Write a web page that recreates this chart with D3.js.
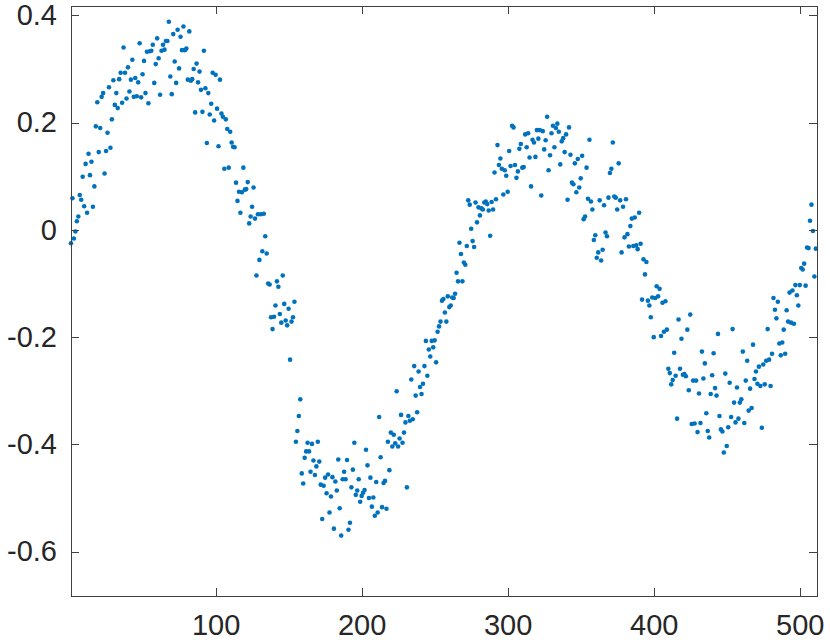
<!DOCTYPE html>
<html>
<head>
<meta charset="utf-8">
<script src="https://cdn.jsdelivr.net/npm/d3@7"></script>
<style>
  html, body { margin: 0; padding: 0; background: #ffffff; }
  svg { display: block; }
  .axis text { font-family: "Liberation Sans", Arial, Helvetica, sans-serif; font-size: 29px; fill: #262626; }
  .axis line, .axis path { stroke: #404040; stroke-width: 1; shape-rendering: crispEdges; }
</style>
</head>
<body>
<svg id="chart" width="830" height="640"></svg>
<script>
// ---- data ----
const xTicks = [100, 200, 300, 400, 500];
const yTicks = [-0.6, -0.4, -0.2, 0, 0.2, 0.4];
const xLimits = [1, 512];
const yLimits = [-0.6826, 0.4179];

// sample values, x = 1, 2, 3, ...
const riseAndPeak = [
  -0.025, 0.059, -0.016, -0.003, 0.016, 0.025, 0.065, 0.056, 0.099, 0.044,
  0.123, 0.032, 0.142, 0.102, 0.127, 0.043, 0.081, 0.193, 0.238, 0.145,
  0.190, 0.248, 0.255, 0.105, 0.147, 0.181, 0.266, 0.153, 0.206, 0.279,
  0.233, 0.255, 0.227, 0.281, 0.293, 0.237, 0.340, 0.293, 0.245, 0.303,
  0.258, 0.280, 0.317, 0.248, 0.283, 0.249, 0.275, 0.348, 0.247, 0.290,
  0.315, 0.255, 0.332, 0.236, 0.333, 0.334, 0.345, 0.274, 0.309, 0.357,
  0.320, 0.252, 0.334, 0.345, 0.336, 0.352, 0.352, 0.388, 0.286, 0.253,
  0.365, 0.314, 0.274, 0.373, 0.301, 0.360, 0.335, 0.379, 0.335, 0.338,
  0.280, 0.370
];
const firstDescent = [
  0.278, 0.281, 0.300, 0.219, 0.310, 0.275, 0.295, 0.261, 0.220, 0.334,
  0.264, 0.162, 0.255, 0.215, 0.235, 0.293, 0.204, 0.289, 0.226, 0.156,
  0.280, 0.217, 0.211, 0.114, 0.206, 0.188, 0.116, 0.183, 0.163, 0.155,
  0.154, 0.088, 0.054, 0.071, 0.032, 0.070, 0.116, 0.075, 0.076, 0.089,
  0.012, 0.025, 0.043, 0.079, 0.021, -0.085, 0.029, -0.056, 0.029, -0.040,
  0.030, -0.012, -0.044, -0.100, -0.102, -0.163, -0.185, -0.162, -0.141, -0.096,
  -0.106, -0.157, -0.173, -0.085, -0.138, -0.169, -0.178, -0.147, -0.242, -0.171,
  -0.163, -0.134
];
const troughAndSecondPeak = [
  -0.395, -0.375, -0.347, -0.316, -0.454, -0.473, -0.425, -0.413, -0.397, -0.413,
  -0.451, -0.399, -0.430, -0.457, -0.441, -0.395, -0.432, -0.475, -0.539, -0.477,
  -0.462, -0.491, -0.456, -0.527, -0.497, -0.461, -0.557, -0.469, -0.486, -0.428,
  -0.519, -0.570, -0.465, -0.451, -0.465, -0.429, -0.559, -0.546, -0.480, -0.447,
  -0.397, -0.494, -0.486, -0.465, -0.507, -0.496, -0.490, -0.485, -0.410, -0.439,
  -0.500, -0.462, -0.516, -0.499, -0.533, -0.470, -0.527, -0.349, -0.424, -0.517,
  -0.472, -0.468, -0.520, -0.395, -0.448, -0.378, -0.404, -0.382, -0.398, -0.301,
  -0.404, -0.389, -0.345, -0.397, -0.378, -0.359, -0.480, -0.347, -0.356, -0.279,
  -0.353, -0.254, -0.309, -0.340, -0.264, -0.293, -0.306, -0.287, -0.254, -0.207,
  -0.272, -0.223, -0.236, -0.207, -0.219, -0.206, -0.247, -0.190, -0.180, -0.171,
  -0.132, -0.129, -0.154, -0.171, -0.124, -0.144, -0.141, -0.126, -0.127, -0.119,
  -0.080, -0.096, -0.024, -0.045, -0.096, -0.061, -0.065, -0.030, 0.055, 0.047,
  0.002, -0.021, -0.032, 0.051, 0.014, 0.042, 0.027, 0.040, 0.038, 0.051,
  0.053, 0.048, 0.036, -0.011, 0.052, 0.038, 0.107, 0.057, 0.158, 0.121,
  0.133, 0.114, 0.066, 0.111, 0.101, 0.071, 0.147, 0.119, 0.194, 0.191,
  0.121, 0.097, 0.109, 0.151, 0.160, 0.116, 0.117, 0.178, 0.154, 0.180,
  0.135, 0.081, 0.168, 0.163, 0.136, 0.186, 0.170, 0.186, 0.064, 0.184,
  0.150, 0.167, 0.211, 0.111, 0.139, 0.180, 0.194, 0.154, 0.190, 0.198,
  0.183, 0.122, 0.165, 0.171, 0.145, 0.178, 0.056, 0.191, 0.140, 0.088,
  0.085, 0.124, 0.070, 0.132, 0.079, 0.096, 0.138, 0.020, 0.025, 0.116,
  0.058, 0.168, 0.053, 0.038, -0.019, -0.010, -0.052, -0.042, 0.055, -0.057,
  -0.037, 0.046, -0.005, -0.012, 0.060, 0.106, 0.114, 0.163, 0.062, 0.060,
  0.038, 0.124, 0.055, -0.042, 0.043, -0.014, 0.057, -0.008, -0.031, 0.007,
  0.021, -0.030, 0.023, -0.029, -0.036, 0.032, -0.026, -0.130, -0.055, -0.083,
  -0.060, -0.132, -0.141, -0.163, -0.126, -0.200, -0.127, -0.105, -0.124, -0.110,
  -0.198, -0.136, -0.190, -0.133, -0.186, -0.259, -0.267, -0.288, -0.280, -0.229,
  -0.272, -0.352, -0.167, -0.259, -0.203, -0.270, -0.269, -0.273, -0.186, -0.299,
  -0.158, -0.362, -0.281, -0.361, -0.281, -0.377, -0.305, -0.360, -0.227, -0.277,
  -0.249, -0.342, -0.375, -0.387, -0.306, -0.271, -0.230, -0.295, -0.309, -0.194,
  -0.347, -0.372, -0.376, -0.415, -0.268, -0.403, -0.368, -0.285, -0.349, -0.185,
  -0.322, -0.359, -0.294, -0.352, -0.322, -0.316, -0.227, -0.360, -0.281, -0.244,
  -0.337, -0.296, -0.332, -0.214, -0.278, -0.264, -0.287, -0.255, -0.291, -0.369,
  -0.251, -0.288, -0.244, -0.185, -0.242, -0.291, -0.231, -0.127, -0.149, -0.165,
  -0.134, -0.212, -0.234, -0.210, -0.186, -0.231, -0.150, -0.171, -0.117, -0.173,
  -0.113, -0.175, -0.103, -0.122, -0.141, -0.103, -0.071, -0.074, -0.063, -0.104,
  -0.033, -0.034, 0.017, 0.047, -0.002, -0.087, -0.035
];

const yValues = riseAndPeak.concat(firstDescent, troughAndSecondPeak);
const points = yValues.map((v, i) => ({ x: i + 1, y: v }));

// ---- layout ----
const plot = { left: 71, top: 5.7, right: 817.3, bottom: 596 };
const svg = d3.select("#chart");

const x = d3.scaleLinear().domain(xLimits).range([plot.left, plot.right]);
const y = d3.scaleLinear().domain(yLimits).range([plot.bottom, plot.top]);

const tickLen = 8;
const fmtY = d => String(+d.toFixed(1));

// points
svg.append("g")
  .selectAll("circle")
  .data(points)
  .join("circle")
  .attr("cx", d => x(d.x))
  .attr("cy", d => y(d.y))
  .attr("r", 2.3)
  .attr("fill", "#0072BD");

// axes
svg.append("g").attr("class", "axis")
  .attr("transform", `translate(0,${plot.bottom})`)
  .call(d3.axisBottom(x).tickValues(xTicks).tickSizeInner(-tickLen).tickSizeOuter(0).tickPadding(18));

svg.append("g").attr("class", "axis")
  .attr("transform", `translate(0,${plot.top})`)
  .call(d3.axisTop(x).tickValues(xTicks).tickSizeInner(-tickLen).tickSizeOuter(0).tickFormat(""));

svg.append("g").attr("class", "axis")
  .attr("transform", `translate(${plot.left},0)`)
  .call(d3.axisLeft(y).tickValues(yTicks).tickSizeInner(-tickLen).tickSizeOuter(0).tickPadding(14).tickFormat(fmtY));

svg.append("g").attr("class", "axis")
  .attr("transform", `translate(${plot.right},0)`)
  .call(d3.axisRight(y).tickValues(yTicks).tickSizeInner(-tickLen).tickSizeOuter(0).tickFormat(""));
</script>
</body>
</html>
